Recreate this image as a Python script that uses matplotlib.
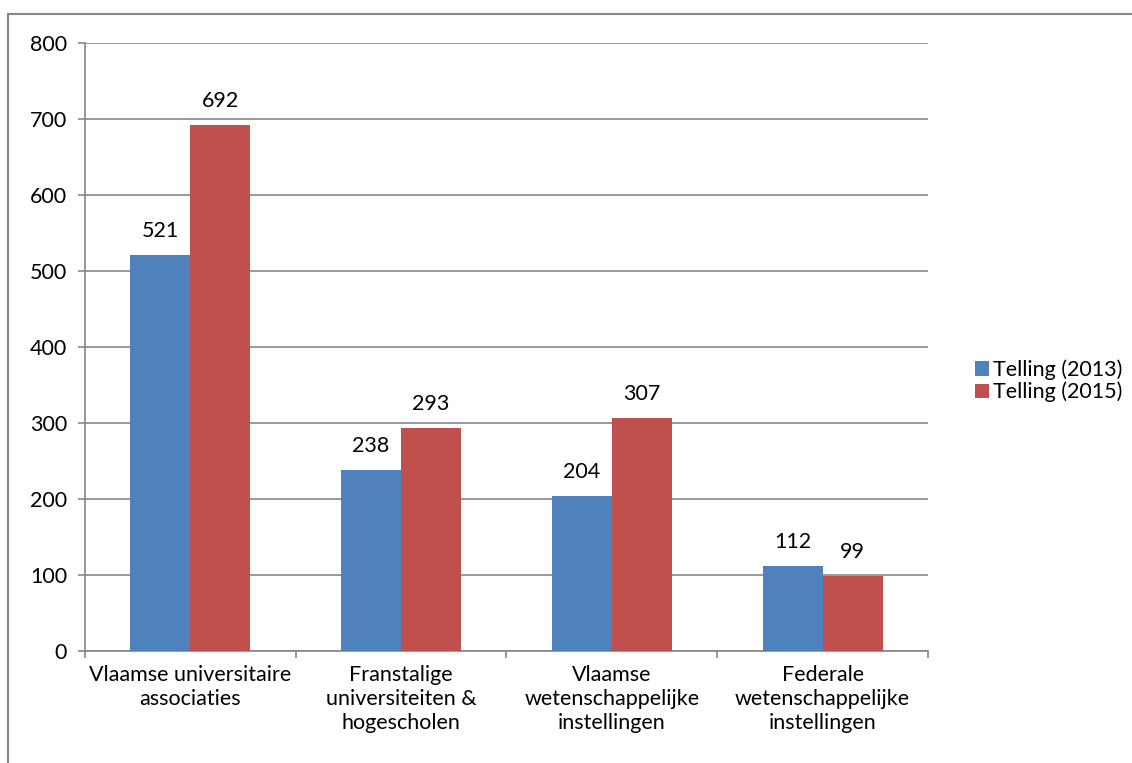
import numpy as np
import matplotlib.pyplot as plt
from matplotlib.patches import Rectangle

''' data '''
categories = ['Vlaamse universitaire\nassociaties',
              'Franstalige\nuniversiteiten &\nhogescholen',
              'Vlaamse\nwetenschappelijke\ninstellingen',
              'Federale\nwetenschappelijke\ninstellingen']
telling_2013 = [521, 238, 204, 112]
telling_2015 = [692, 293, 307, 99]
series_names = ['Telling (2013)', 'Telling (2015)']

fs = 15.5
plt.rcParams['font.family'] = ['Lato', 'DejaVu Sans']
plt.rcParams['font.size'] = fs

W, H = 1132, 763
fig = plt.figure(figsize=(W/100, H/100), dpi=100)

# outer chart border
fig.patches.append(Rectangle((8/W, -0.01), 1.2, 1 - 14/H + 0.01, transform=fig.transFigure,
                             fill=False, edgecolor='#868686', linewidth=1.5))

ax = fig.add_axes([85/W, 1 - 651/H, (928-85)/W, (651-43)/H])

x = np.arange(len(categories))
bw = 0.285
grid_c = '#868686'

b1 = ax.bar(x - bw/2, telling_2013, bw, color='#4F81BD', label=series_names[0], zorder=3)
b2 = ax.bar(x + bw/2, telling_2015, bw, color='#C0504D', label=series_names[1], zorder=3)

for bars in (b1, b2):
    for rect in bars:
        h = rect.get_height()
        ax.annotate(str(int(h)), (rect.get_x() + rect.get_width()/2, h),
                    xytext=(0, 10), textcoords='offset points',
                    ha='center', va='bottom', fontsize=fs)

ax.set_ylim(0, 800)
ax.set_yticks(np.arange(0, 801, 100))
ax.set_xlim(-0.5, len(categories) - 0.5)
ax.yaxis.grid(True, color=grid_c, linewidth=1.2, zorder=0)
ax.set_axisbelow(True)

# category ticks at boundaries
ax.set_xticks(np.arange(-0.5, len(categories) + 0.5, 1))
ax.set_xticklabels([])
ax.set_xticks(x, minor=True)
ax.set_xticklabels(categories, minor=True, linespacing=1.25)
ax.tick_params(axis='x', which='minor', length=0, pad=10)
ax.tick_params(axis='x', which='major', length=5, color=grid_c, width=1.2)
ax.tick_params(axis='y', length=5, color=grid_c, width=1.2, pad=8)

for s in ['top', 'right']:
    ax.spines[s].set_visible(False)
for s in ['left', 'bottom']:
    ax.spines[s].set_color(grid_c)
    ax.spines[s].set_linewidth(1.2)

fig.legend(handles=[b1, b2], labels=series_names, loc='center left',
           bbox_to_anchor=(966/W, 1 - 381/H), frameon=False,
           handlelength=0.65, handleheight=0.65, handletextpad=0.2,
           labelspacing=0.08, fontsize=fs, borderaxespad=0)

fig.savefig('out.png', dpi=100)
